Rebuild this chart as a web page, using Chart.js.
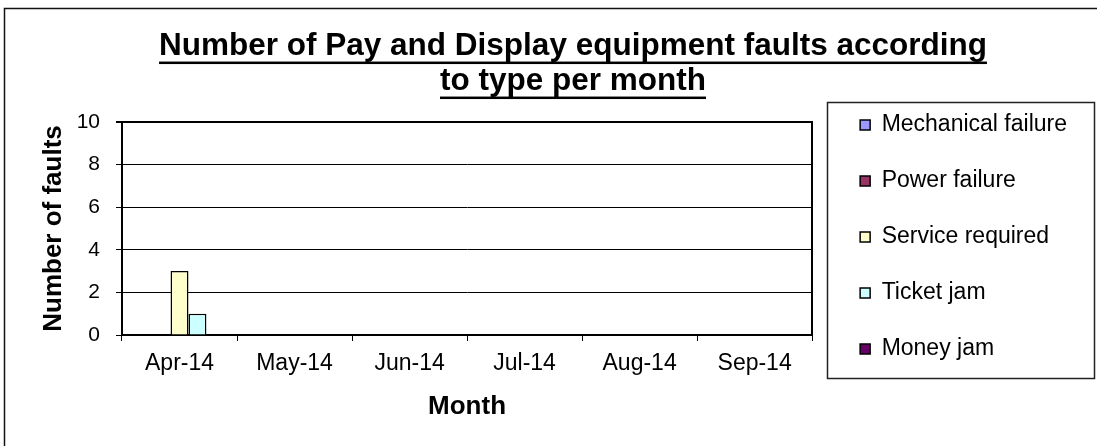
<!DOCTYPE html>
<html>
<head>
<meta charset="utf-8">
<script src="https://cdn.jsdelivr.net/npm/chart.js@4.4.1/dist/chart.umd.min.js"></script>
<style>
  html, body { margin: 0; padding: 0; background: #fff; }
  #wrap { width: 1097px; height: 446px; position: relative; }
</style>
</head>
<body>
<div id="wrap"><canvas id="faults"></canvas></div>
<script>
const months = ['Apr-14', 'May-14', 'Jun-14', 'Jul-14', 'Aug-14', 'Sep-14'];
const mechanicalFailure = [0, 0, 0, 0, 0, 0];
const powerFailure = [0, 0, 0, 0, 0, 0];
const serviceRequired = [3, 0, 0, 0, 0, 0];
const ticketJam = [1, 0, 0, 0, 0, 0];
const moneyJam = [0, 0, 0, 0, 0, 0];
const yTicks = [0, 2, 4, 6, 8, 10];
const titleLines = ['Number of Pay and Display equipment faults according', 'to type per month'];

const FONT = "'Liberation Sans', Arial, sans-serif";
Chart.defaults.font.family = FONT;
Chart.defaults.color = '#000';

// white background + the chart frame (only top/left edges are inside the picture)
const frame = {
  id: 'frame',
  beforeDraw(chart) {
    const { ctx, width, height } = chart;
    ctx.save();
    ctx.fillStyle = '#fff';
    ctx.fillRect(0, 0, width, height);
    ctx.strokeStyle = '#111';
    ctx.lineWidth = 1.5;
    ctx.beginPath();
    ctx.moveTo(4.5, height);
    ctx.lineTo(4.5, 8.5);
    ctx.lineTo(width, 8.5);
    ctx.stroke();
    ctx.restore();
  }
};

// Excel style underlined title
const titleUnderline = {
  id: 'titleUnderline',
  afterDraw(chart) {
    const tb = chart.titleBlock;
    const opts = chart.options.plugins.title;
    const size = opts.font.size;
    const lh = size * opts.font.lineHeight;
    const cx = (tb.left + tb.right) / 2;
    const ctx = chart.ctx;
    ctx.save();
    ctx.font = `bold ${size}px ${FONT}`;
    ctx.fillStyle = '#000';
    titleLines.forEach((line, i) => {
      const w = ctx.measureText(line).width;
      const y = tb.top + opts.padding.top + lh * (i + 0.5) + 16.5;
      ctx.fillRect(cx - w / 2, y - 1.25, w, 2.5);
    });
    ctx.restore();
  }
};

// border round the legend
const legendBox = {
  id: 'legendBox',
  afterDraw(chart) {
    const lg = chart.legend;
    const hb = lg.legendHitBoxes;
    if (!hb || !hb.length) return;
    const first = hb[0], last = hb[hb.length - 1];
    const top = Math.round(first.top - 12);
    const bottom = Math.round(last.top + last.height + 17);
    const left = Math.round(lg.left);
    const ctx = chart.ctx;
    ctx.save();
    ctx.strokeStyle = '#222';
    ctx.lineWidth = 1.5;
    ctx.strokeRect(left + 0.5, top + 0.5, chart.width - 3 - left, bottom - top);
    ctx.restore();
  }
};

const barStyle = { borderColor: '#000', borderWidth: 1.5, categoryPercentage: 0.78, barPercentage: 1 };

new Chart(document.getElementById('faults'), {
  type: 'bar',
  data: {
    labels: months,
    datasets: [
      { label: 'Mechanical failure', data: mechanicalFailure, backgroundColor: '#9999FF', ...barStyle },
      { label: 'Power failure', data: powerFailure, backgroundColor: '#993366', ...barStyle },
      { label: 'Service required', data: serviceRequired, backgroundColor: '#FFFFCC', ...barStyle },
      { label: 'Ticket jam', data: ticketJam, backgroundColor: '#CCFFFF', ...barStyle },
      { label: 'Money jam', data: moneyJam, backgroundColor: '#660066', ...barStyle }
    ]
  },
  options: {
    responsive: true,
    maintainAspectRatio: false,
    animation: false,
    events: [],
    layout: { padding: { top: 28, left: 69, right: 20, bottom: 0 } },
    plugins: {
      title: {
        display: true,
        text: titleLines,
        color: '#000',
        font: { size: 31.5, weight: 'bold', lineHeight: 35 / 31.5 },
        padding: { top: 0.8, bottom: 23.2 }
      },
      legend: {
        position: 'right',
        maxWidth: 320,
        labels: {
          boxWidth: 10,
          boxHeight: 10,
          padding: 33,
          color: '#000',
          font: { size: 23 }
        }
      },
      tooltip: { enabled: false }
    },
    scales: {
      x: {
        grid: { offset: true, drawOnChartArea: false, color: '#000', tickLength: 6 },
        border: { color: '#000', width: 2 },
        ticks: { font: { size: 23 }, color: '#000', padding: 9, maxRotation: 0 },
        title: {
          display: true,
          text: 'Month',
          color: '#000',
          font: { size: 26, weight: 'bold' },
          padding: { top: 4.8, bottom: 23.4 }
        },
        afterFit(scale) { scale.height = 111; }
      },
      y: {
        min: yTicks[0],
        max: yTicks[yTicks.length - 1],
        ticks: { stepSize: yTicks[1] - yTicks[0], font: { size: 21 }, color: '#000', padding: 16 },
        grid: {
          color: '#000',
          lineWidth: ctx => (ctx.tick && ctx.tick.value === yTicks[yTicks.length - 1] ? 2 : 1),
          tickLength: 6
        },
        border: { color: '#000', width: 2 },
        title: {
          display: true,
          text: 'Number of faults',
          color: '#000',
          font: { size: 26, weight: 'bold' },
          padding: { top: -30.9, bottom: 0 }
        },
        afterFit(scale) { scale.width = 53; }
      },
      yRight: {
        position: 'right',
        display: true,
        grid: { display: false },
        ticks: { display: false },
        border: { color: '#000', width: 2 },
        afterFit(scale) { scale.width = 15; }
      }
    }
  },
  plugins: [frame, titleUnderline, legendBox]
});
</script>
</body>
</html>
